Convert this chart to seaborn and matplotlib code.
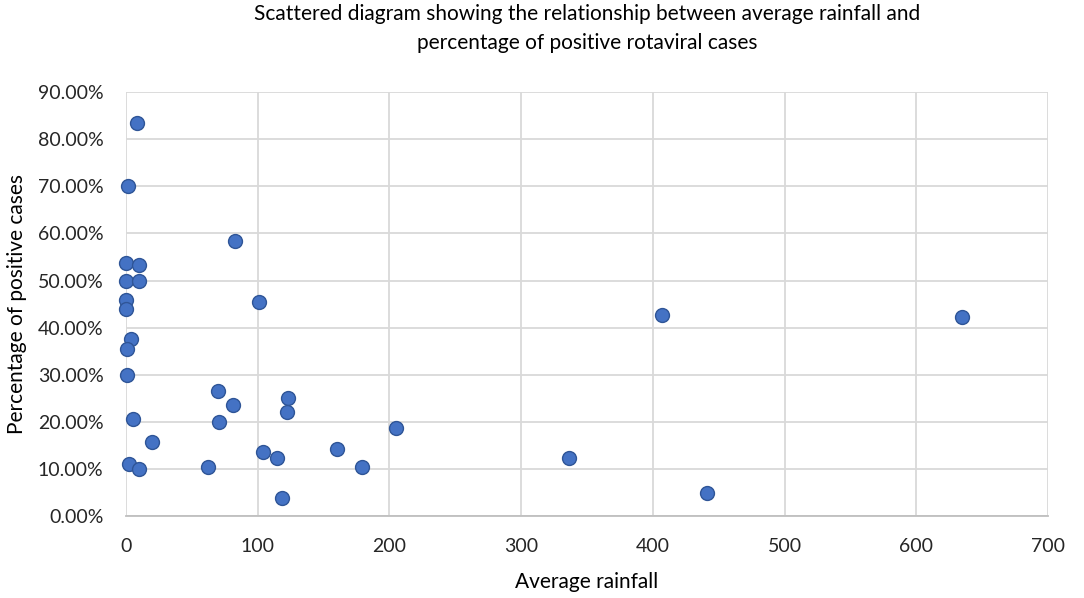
import numpy as np
import pandas as pd
import seaborn as sns
from matplotlib import pyplot as plt
from matplotlib.ticker import PercentFormatter

# values
rainfall = [8.2, 1.9, 82.6, 0.0, 9.7, 0.0, 9.7, 101.3, 0.0, 0.0,
            4.0, 0.7, 1.2, 69.8, 81.6, 123.5, 122.5, 5.2, 70.6, 20.2,
            2.7, 9.7, 62.4, 104.5, 115.0, 118.7, 205.3, 160.4, 179.6,
            406.7, 634.6, 336.3, 441.0]
positive_pct = [83.4, 70.0, 58.3, 53.8, 53.4, 50.0, 50.0, 45.4, 45.8, 44.0,
                37.5, 35.5, 29.9, 26.5, 23.5, 25.0, 22.1, 20.7, 19.9, 15.7,
                11.0, 9.9, 10.5, 13.6, 12.4, 3.8, 18.6, 14.2, 10.5,
                42.7, 42.2, 12.25, 4.8]

df = pd.DataFrame({'rainfall': rainfall, 'positive': positive_pct})

sns.set_theme(style="whitegrid")
plt.rcParams['font.family'] = ['Lato', 'DejaVu Sans']

fig = plt.figure(figsize=(10.84, 5.98), dpi=100)
ax = fig.add_axes([0.116, 0.137, 0.851, 0.709])

sns.scatterplot(data=df, x='rainfall', y='positive', ax=ax,
                color='#4472C4', edgecolor='#2F5597', linewidth=1.0,
                s=100, zorder=3, clip_on=False)

ax.set_xlim(0, 700)
ax.set_ylim(0, 90)
ax.set_xticks(np.arange(0, 701, 100))
ax.set_yticks(np.arange(0, 91, 10))
ax.yaxis.set_major_formatter(PercentFormatter(decimals=2))

ax.grid(True, color='#D9D9D9', linewidth=1.3)
for side in ['top', 'right', 'left']:
    ax.spines[side].set_visible(False)
ax.spines['bottom'].set_color('#BFBFBF')
ax.spines['bottom'].set_linewidth(1.3)
ax.tick_params(axis='both', labelsize=14, labelcolor='#262626', length=0, pad=16)

ax.set_title('Scattered diagram showing the relationship between average rainfall and\n'
             'percentage of positive rotaviral cases',
             fontsize=15, color='#000000', pad=31, linespacing=1.55)
ax.set_xlabel('Average rainfall', fontsize=15, color='#000000', labelpad=12)
ax.set_ylabel('Percentage of positive cases', fontsize=15, color='#000000', labelpad=8)

plt.savefig('out.png', dpi=100)
